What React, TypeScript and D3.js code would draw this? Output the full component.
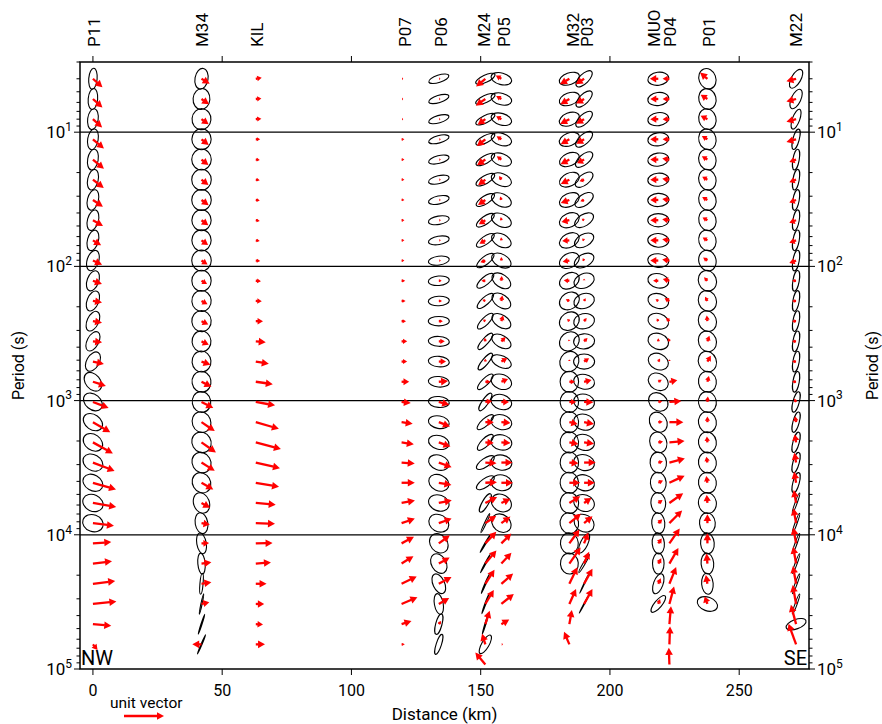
import React from 'react';
import * as d3 from 'd3';

// periods (s), sqrt(2) spacing, top to bottom
const periods = [4, 5.66, 8, 11.3, 16, 22.6, 32, 45.3, 64, 90.5, 128, 181, 256, 362, 512, 724, 1024, 1448, 2048, 2896, 4096, 5793, 8192, 11585, 16384, 23170, 32768, 46341, 65536, 92682];

const stations = ['P11', 'M34', 'KIL', 'P07', 'P06', 'M24', 'P05', 'M32', 'P03', 'MUO', 'P04', 'P01', 'M22'];
const distances = [0, 42, 63, 119.4, 133.8, 151.8, 158, 184.3, 190, 218.7, 223, 237.7, 272];

const xTicks = [0, 50, 100, 150, 200, 250];
const yLabels = [1, 2, 3, 4, 5];

// phase tensor ellipses: [phimin/phimax, azimuth of major axis (deg ccw from east)] per period row
type Ell = [number, number] | null;
// induction arrows: [magnitude, direction (deg ccw from east)] per period row
type Arr = [number, number] | null;

const ellP11: Ell[] = [[0.4, 85], [0.45, 85], [0.5, 82], [0.5, 80], [0.5, 80], [0.5, 78], [0.52, 76], [0.52, 75], [0.52, 75], [0.55, 72], [0.55, 70], [0.55, 68], [0.55, 65], [0.55, 62], [0.6, 60], [0.7, 130], [0.72, 140], [0.72, 145], [0.75, 145], [0.75, 150], [0.75, 150], [0.78, 155], [0.8, 160]];
const arrP11: Arr[] = [[0.32, -42], [0.32, -42], [0.31, -42], [0.36, -40], [0.36, -40], [0.34, -37], [0.3, -34], [0.29, -30], [0.24, -31], [0.25, -24], [0.24, -20], [0.23, -10], [0.23, -10], [0.23, -6], [0.28, -12], [0.34, -18], [0.42, -21], [0.5, -30], [0.57, -29], [0.58, -21], [0.6, -16], [0.59, -10], [0.53, -7], [0.46, 4], [0.48, 7], [0.56, 7], [0.59, 6], [0.46, -5], [0.18, -50]];

const ellM34: Ell[] = [[0.62, 80], [0.8, 85], [0.9, 85], [0.92, 90], [0.93, 90], [0.93, 90], [0.93, 90], [0.92, 90], [0.92, 90], [0.93, 90], [0.92, 90], [0.92, 95], [0.92, 95], [0.9, 95], [0.9, 95], [0.9, 100], [0.88, 100], [0.88, 110], [0.9, 120], [0.88, 120], [0.85, 120], [0.75, 110], [0.6, 100], [0.45, 100], [0.35, 95], [0.15, 85], [0.06, 78], [0.05, 72], [0.05, 67]];
const arrM34: Arr[] = [[0.24, -31], [0.23, -35], [0.22, -36], [0.23, -38], [0.22, -38], [0.22, -38], [0.22, -36], [0.21, -36], [0.2, -35], [0.18, -33], [0.16, -30], [0.17, -28], [0.19, -27], [0.2, -25], [0.24, -20], [0.28, -27], [0.33, -27], [0.4, -34], [0.44, -35], [0.39, -32], [0.34, -30], [0.25, -29], [0.21, -9], [0.19, 2], [0.25, 8], [0.25, 9], [0.2, 12], null, [0.23, 180]];

const arrKIL: Arr[] = [[0.15, 10], [0.14, 5], [0.14, 5], [0.11, 0], [0.1, -5], [0.1, -8], [0.1, -8], [0.1, -10], [0.1, -10], [0.11, -5], [0.13, -5], [0.15, -3], [0.18, 0], [0.25, -5], [0.33, -10], [0.43, -8], [0.49, -10], [0.6, -16], [0.65, -15], [0.62, -13], [0.59, -10], [0.5, -5], [0.48, -2], [0.42, 1], [0.38, 4], [0.27, 0], [0.21, 0], [0.18, -3], [0.23, 0]];

const arrP07: Arr[] = [[0.04, 0], [0.04, 0], [0.04, 0], [0.07, 0], [0.07, 0], [0.07, 0], [0.07, 0], [0.07, 0], [0.07, 0], [0.07, 0], [0.09, 0], [0.1, 0], [0.11, 0], [0.14, 0], [0.14, 0], [0.19, 0], [0.23, -6], [0.28, -8], [0.31, -9], [0.33, -4], [0.33, 0], [0.34, 11], [0.35, 19], [0.35, 28], [0.35, 32], [0.42, 26], [0.43, 23], [0.26, 18], [0.08, 0]];

const ellP06: Ell[] = [[0.35, 18], [0.35, 17], [0.35, 16], [0.35, 15], [0.37, 14], [0.38, 13], [0.38, 12], [0.4, 10], [0.4, 10], [0.42, 8], [0.45, 5], [0.45, 3], [0.45, 0], [0.47, -3], [0.5, -5], [0.5, -5], [0.52, -5], [0.6, -10], [0.65, -15], [0.7, -20], [0.75, -25], [0.75, -20], [0.8, -30], [0.8, -50], [0.7, -60], [0.55, -65], [0.42, 100], [0.3, 75], [0.25, 72]];
const arrP06: Arr[] = [[0.04, 0], [0.04, 0], [0.04, 0], [0.05, 0], [0.05, 0], [0.05, 0], [0.05, 0], [0.05, 0], [0.05, 0], [0.05, 0], [0.07, 0], [0.08, 0], [0.1, 0], [0.15, 0], [0.18, 0], [0.23, 4], [0.27, -15], [0.3, -21], [0.31, -20], [0.34, -20], [0.32, -10], [0.33, 12], [0.34, 20], [0.34, 36], [0.31, 29], [0.36, 28], [0.3, 30], [0.1, 55]];

const ellM24: Ell[] = [[0.35, 25], [0.35, 25], [0.35, 27], [0.35, 28], [0.37, 30], [0.38, 30], [0.38, 32], [0.38, 35], [0.38, 35], [0.38, 38], [0.38, 40], [0.36, 42], [0.35, 45], [0.3, 48], [0.3, 50], [0.33, 45], [0.3, 55], [0.35, 42], [0.38, 45], [0.4, 35], [0.4, 35], [0.3, 60], [0.08, 65], [0.05, 60], [0.05, 62], [0.05, 67], [0.05, 70], [0.05, 73], [0.35, 60]];
const arrM24: Arr[] = [[0.3, 220], [0.29, 215], [0.24, 216], [0.27, 219], [0.25, 214], [0.23, 218], [0.22, 214], [0.19, 212], [0.17, 210], [0.13, 198], [0.1, 180], [0.08, 160], [0.07, 150], [0.09, 100], [0.07, 90], [0.13, 0], [0.17, 8], [0.21, 0], [0.21, -5], [0.28, -3], [0.29, 3], [0.33, 27], [0.33, 34], [0.4, 47], [0.43, 50], [0.42, 57], [0.41, 59], [0.35, 72], [0.28, 107], [0.39, 130]];

const ellP05: Ell[] = [[0.55, -15], [0.55, -15], [0.55, -17], [0.57, -18], [0.57, -20], [0.58, -22], [0.6, -25], [0.6, -25], [0.6, -28], [0.6, -30], [0.6, -35], [0.6, -35], [0.58, -33], [0.57, -30], [0.55, -25], [0.7, -20], [0.7, -18], [0.7, -15], [0.72, -12], [0.72, -10], [0.75, -10], [0.8, -30], [0.8, -40]];
const arrP05: Arr[] = [[0.16, 150], [0.15, 150], [0.15, 150], [0.14, 148], [0.14, 145], [0.11, 120], [0.09, 110], [0.08, 100], [0.08, 95], [0.09, 90], [0.12, 85], [0.14, 80], [0.15, 73], [0.15, 45], [0.17, 30], [0.18, 22], [0.19, 0], [0.23, -5], [0.23, -4], [0.28, 0], [0.29, 0], [0.25, 25], [0.28, 36], [0.35, 45], [0.37, 47], [0.39, 41], [0.4, 39], [0.23, 31], [0.04, 0]];

const ellM32: Ell[] = [[0.55, 20], [0.58, 20], [0.6, 22], [0.6, 22], [0.6, 24], [0.62, 25], [0.62, 25], [0.65, 25], [0.65, 27], [0.68, 28], [0.72, 30], [0.78, 32], [0.82, 35], [0.85, 40], [0.88, 60], [0.88, 90], [0.88, 95], [0.88, 95], [0.88, 95], [0.88, 95], [0.88, 95], [0.88, 95], [0.88, 100], [0.85, 95], [0.85, 95]];
const arrM32: Arr[] = [[0.27, 210], [0.26, 210], [0.26, 208], [0.25, 210], [0.25, 208], [0.24, 206], [0.23, 200], [0.2, 192], [0.18, 185], [0.17, 190], [0.14, 175], [0.1, 155], [0.08, 135], [0.05, 110], [0.05, 90], [0.14, 0], [0.17, 0], [0.21, -12], [0.23, -10], [0.23, -4], [0.27, 0], [0.32, 32], [0.37, 39], [0.43, 54], [0.49, 55], [0.46, 64], [0.41, 66], [0.36, 80], [0.34, 113]];

const ellP03: Ell[] = [[0.45, 45], [0.45, 45], [0.45, 43], [0.47, 42], [0.48, 40], [0.5, 38], [0.52, 35], [0.55, 32], [0.58, 30], [0.6, 28], [0.68, 22], [0.7, 18], [0.72, 12], [0.72, 5], [0.72, 0], [0.7, -10], [0.75, -12], [0.75, -15], [0.75, -15], [0.75, -15], [0.75, -15], [0.78, -20], [0.8, -30], [0.35, 65], [0.1, 60], [0.03, 65], [0.03, 62]];
const arrP03: Arr[] = [[0.25, 213], [0.23, 210], [0.23, 210], [0.22, 210], [0.2, 208], [0.12, 200], [0.1, 200], [0.07, 150], [0.07, 135], [0.07, 120], [0.05, 90], [0.08, 60], [0.1, 50], [0.12, 45], [0.15, 34], [0.19, 13], [0.23, -2], [0.25, -10], [0.25, -8], [0.29, 0], [0.27, 0], [0.22, 34], [0.27, 39], [0.29, 69], [0.32, 67], [0.43, 61], [0.43, 61]];

const ellMUO: Ell[] = [[0.62, 8], [0.62, 8], [0.62, 8], [0.62, 8], [0.62, 8], [0.62, 5], [0.63, 3], [0.63, 0], [0.65, -3], [0.65, -5], [0.68, -12], [0.7, -15], [0.72, -18], [0.75, -20], [0.75, -25], [0.78, -30], [0.8, -40], [0.8, -60], [0.8, -70], [0.78, 95], [0.75, 95], [0.7, 95], [0.62, 95], [0.58, 95], [0.55, 90], [0.45, 70], [0.35, 50]];
const arrMUO: Arr[] = [[0.21, 180], [0.2, 180], [0.2, 180], [0.2, 180], [0.2, 180], [0.2, 180], [0.2, 180], [0.2, 180], [0.2, 180], [0.2, 180], [0.13, 180], [0.08, 150], [0.08, 120], [0.08, 90], [0.09, 60], [0.1, 30], [0.1, 10], [0.11, 5], [0.12, 10], [0.12, 15], [0.13, 25], [0.13, 35], [0.14, 45], [0.15, 55], [0.15, 60], [0.15, 65], [0.13, 70]];

const arrP04: Arr[] = [[0.17, 180], [0.17, 180], [0.17, 180], [0.17, 180], [0.18, 172], [0.18, 172], [0.18, 172], [0.18, 172], [0.18, 172], [0.18, 172], [0.17, 165], [0.14, 150], [0.12, 135], [0.09, 110], [0.05, 90], [0.2, 10], [0.3, 5], [0.35, 0], [0.38, 5], [0.4, 15], [0.42, 25], [0.42, 35], [0.45, 45], [0.45, 55], [0.45, 60], [0.45, 68], [0.45, 75], [0.45, 85], [0.45, 88], [0.42, 92]];

const ellP01: Ell[] = [[0.8, 110], [0.82, 105], [0.82, 105], [0.82, 105], [0.82, 105], [0.82, 105], [0.82, 105], [0.82, 105], [0.82, 105], [0.82, 105], [0.85, 110], [0.85, 110], [0.85, 110], [0.85, 110], [0.85, 110], [0.85, 100], [0.85, 100], [0.85, 100], [0.85, 100], [0.85, 100], [0.85, 100], [0.85, 100], [0.75, 95], [0.65, 95], [0.6, 95], [0.55, 95], [0.65, -20]];
const arrP01: Arr[] = [[0.24, 140], [0.2, 147], [0.19, 153], [0.16, 150], [0.16, 150], [0.15, 150], [0.15, 150], [0.14, 150], [0.14, 148], [0.13, 145], [0.12, 135], [0.12, 120], [0.14, 97], [0.15, 70], [0.17, 60], [0.15, 75], [0.14, 85], [0.14, 90], [0.15, 95], [0.15, 100], [0.17, 100], [0.2, 95], [0.22, 90], [0.25, 90], [0.25, 95], [0.22, 100], [0.2, 110]];

const ellM22: Ell[] = [[0.45, 60], [0.45, 65], [0.35, 70], [0.3, 75], [0.3, 80], [0.3, 80], [0.3, 80], [0.3, 80], [0.3, 80], [0.3, 80], [0.3, 80], [0.3, 80], [0.3, 80], [0.3, 80], [0.3, 80], [0.3, 80], [0.3, 75], [0.3, 75], [0.3, 75], [0.3, 75], [0.3, 75], [0.1, 70], [0.1, 70], [0.1, 70], [0.1, 70], [0.1, 70], [0.1, 70], [0.45, 20]];
const arrM22: Arr[] = [[0.25, 195], [0.25, 195], [0.25, 195], [0.25, 195], [0.18, 200], [0.18, 200], [0.18, 200], [0.18, 200], [0.18, 200], [0.18, 200], [0.1, 180], [0.1, 180], [0.1, 180], [0.1, 180], [0.1, 180], [0.1, 180], [0.1, 120], [0.15, 100], [0.2, 100], [0.25, 100], [0.28, 100], [0.33, 100], [0.38, 100], [0.4, 100], [0.43, 100], [0.45, 100], [0.48, 100], [0.5, 105], [0.55, 110]];

const ellipseSets: (Ell[] | null)[] = [ellP11, ellM34, null, null, ellP06, ellM24, ellP05, ellM32, ellP03, ellMUO, null, ellP01, ellM22];
const arrowSets: (Arr[] | null)[] = [arrP11, arrM34, arrKIL, arrP07, arrP06, arrM24, arrP05, arrM32, arrP03, arrMUO, arrP04, arrP01, arrM22];

const labelNudge = [1, 0, 1, 3, 2, -1, 3, 4, 3, -4, 0, 1, 0];

const FONT = "Roboto, 'Open Sans', sans-serif";
const RED = '#ff0000';
const ELL_MAJOR = 21; // px, ellipses normalised by phimax
const UNIT = 40; // px for |T| = 1

function Arrow({ x0, y0, len, ang }: { x0: number; y0: number; len: number; ang: number }) {
  const a = (ang * Math.PI) / 180;
  const ux = Math.cos(a);
  const uy = -Math.sin(a);
  const x1 = x0 + ux * len;
  const y1 = y0 + uy * len;
  const h = Math.min(7, len * 0.75);
  const w = Math.max(1.4, Math.min(3.8, len * 0.45));
  const bx = x1 - ux * h;
  const by = y1 - uy * h;
  const head = [
    [x1, y1],
    [bx - uy * w, by + ux * w],
    [bx + uy * w, by - ux * w],
  ];
  return (
    <g>
      {len > h + 0.5 && <line x1={x0} y1={y0} x2={bx + ux * 0.5} y2={by + uy * 0.5} stroke={RED} strokeWidth={2.3} />}
      <polygon points={head.map((p) => p.join(',')).join(' ')} fill={RED} />
    </g>
  );
}

export default function App() {
  const left = 80, right = 809, top = 62, bottom = 669;
  const x = d3.scaleLinear().domain([-5, 277]).range([left, right]);
  const y = d3.scaleLog().domain([3, 1e5]).range([top, bottom]);
  const yTicks = y.ticks();

  return (
    <svg width={882} height={724} style={{ position: 'absolute', left: 0, top: 0 }} fontFamily={FONT}>
      <rect width={882} height={724} fill="#fff" />

      {/* decade grid lines */}
      {[10, 100, 1000, 10000].map((v) => (
        <line key={v} x1={left} x2={right} y1={y(v)} y2={y(v)} stroke="#000" strokeWidth={1.2} />
      ))}

      {/* ellipses */}
      {ellipseSets.map((set, si) =>
        set
          ? set.map((e, ri) => {
              if (!e) return null;
              const cx = x(distances[si]);
              const cy = y(periods[ri]);
              return (
                <ellipse
                  key={`e${si}-${ri}`}
                  cx={cx}
                  cy={cy}
                  rx={ELL_MAJOR / 2}
                  ry={Math.max(0.3, (ELL_MAJOR * e[0]) / 2)}
                  transform={`rotate(${-e[1]},${cx},${cy})`}
                  fill="none"
                  stroke="#000"
                  strokeWidth={1.1}
                />
              );
            })
          : null
      )}

      {/* induction arrows */}
      {arrowSets.map((set, si) =>
        set
          ? set.map((a, ri) =>
              a ? <Arrow key={`a${si}-${ri}`} x0={x(distances[si])} y0={y(periods[ri])} len={a[0] * UNIT} ang={a[1]} /> : null
            )
          : null
      )}

      {/* frame */}
      <rect x={left} y={top} width={right - left} height={bottom - top} fill="none" stroke="#000" strokeWidth={1.5} />

      {/* y ticks */}
      {yTicks.map((t) => {
        const major = Math.abs(Math.log10(t) - Math.round(Math.log10(t))) < 1e-6;
        const l = major ? 6 : 3.5;
        return (
          <g key={t}>
            <line x1={left - l} x2={left} y1={y(t)} y2={y(t)} stroke="#000" strokeWidth={1} />
            <line x1={right} x2={right + l} y1={y(t)} y2={y(t)} stroke="#000" strokeWidth={1} />
          </g>
        );
      })}
      {yLabels.map((p) => (
        <g key={p} fontSize={17}>
          <text x={left - 8} y={y(Math.pow(10, p))} dy="0.35em" textAnchor="end">
            10<tspan fontSize={12} dy="-0.6em">{p}</tspan>
          </text>
          <text x={right + 8} y={y(Math.pow(10, p))} dy="0.35em" textAnchor="start">
            10<tspan fontSize={12} dy="-0.6em">{p}</tspan>
          </text>
        </g>
      ))}

      {/* x ticks */}
      {xTicks.map((t) => (
        <g key={t}>
          <line x1={x(t)} x2={x(t)} y1={bottom} y2={bottom + 6} stroke="#000" strokeWidth={1} />
          <line x1={x(t)} x2={x(t)} y1={top} y2={top - 6} stroke="#000" strokeWidth={1} />
          <text x={x(t)} y={696} textAnchor="middle" fontSize={16}>{t}</text>
        </g>
      ))}

      {/* station labels */}
      {stations.map((s, i) => (
        <text
          key={s}
          transform={`translate(${x(distances[i]) + labelNudge[i]},47) rotate(-90)`}
          dy="0.36em"
          fontSize={17}
        >
          {s}
        </text>
      ))}

      {/* axis titles */}
      <text x={(left + right) / 2} y={720} textAnchor="middle" fontSize={17}>Distance (km)</text>
      <text transform={`translate(18,${(top + bottom) / 2}) rotate(-90)`} dy="0.35em" textAnchor="middle" fontSize={16}>Period (s)</text>
      <text transform={`translate(872,${(top + bottom) / 2}) rotate(-90)`} dy="0.35em" textAnchor="middle" fontSize={16}>Period (s)</text>

      <text x={left + 1} y={bottom - 4} fontSize={20}>NW</text>
      <text x={right - 2} y={bottom - 4} fontSize={20} textAnchor="end">SE</text>

      {/* legend */}
      <text x={110} y={708} fontSize={15.5}>unit vector</text>
      <Arrow x0={124} y0={716} len={UNIT} ang={0} />
    </svg>
  );
}
